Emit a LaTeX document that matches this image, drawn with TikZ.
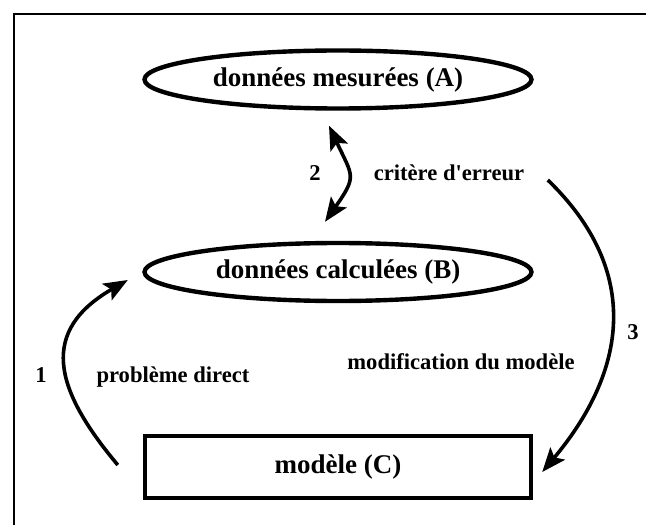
\documentclass[tikz,border=0pt]{standalone}
\usepackage{fontspec}
\setmainfont{Liberation Serif}
\usetikzlibrary{shapes.geometric, arrows.meta}

\begin{document}
\begin{tikzpicture}[x = 0.5pt, y = 0.5pt, > = {Stealth[length=12pt, width=9.5pt, inset=2.5pt]},
		donnees/.style = {draw, ellipse, line width=2.2pt, minimum width=193.5pt, minimum height=29pt, inner sep=0pt, font=\bfseries\fontsize{13.5}{16}\selectfont},
		modele/.style = {draw, rectangle, line width=2.2pt, minimum width=193pt, minimum height=31pt, inner sep=0pt, font=\bfseries\fontsize{13.5}{16}\selectfont},
		etiq/.style = {font=\bfseries\fontsize{11.3}{13}\selectfont},
		fleche/.style = {line width=1.8pt}]
			\useasboundingbox (0,0) rectangle (646,525);
			\draw [line width=1pt] (14,0) -- (14,511) -- (646,511);
			
			\node [donnees] (A) at (338, 445.5) {données mesurées (A)};
			\node [donnees] (B) at (338, 253) {données calculées (B)};
			\node [modele] (C) at (338, 58) {modèle (C)};
			
			\node [etiq] (n2) at (315, 352) {2};
			\node [etiq] (crit) at (449, 352) {critère d\textquotesingle erreur};
			\node [etiq] (n1) at (41, 150) {1};
			\node [etiq] (direct) at (173, 148) {problème direct};
			\node [etiq] (modif) at (461, 163) {modification du modèle};
			\node [etiq] (n3) at (633, 193) {3};
			
			\draw [fleche, <->] ([shift={(-9,-15)}]A.south) to [out=-65, in=55, looseness=1.5] ([shift={(-13,19)}]B.north);
			\draw [fleche, ->] ([shift={(16.5,-7)}]crit.east) to [out=-44, in=50, looseness=1.15] ([shift={(9,-5)}]C.east);
			\draw [fleche, ->] ([shift={(-25,2)}]C.west) to [out=130, in=210, looseness=1.4] ([shift={(-14.5,-8)}]B.west);
		\end{tikzpicture}
\end{document}
